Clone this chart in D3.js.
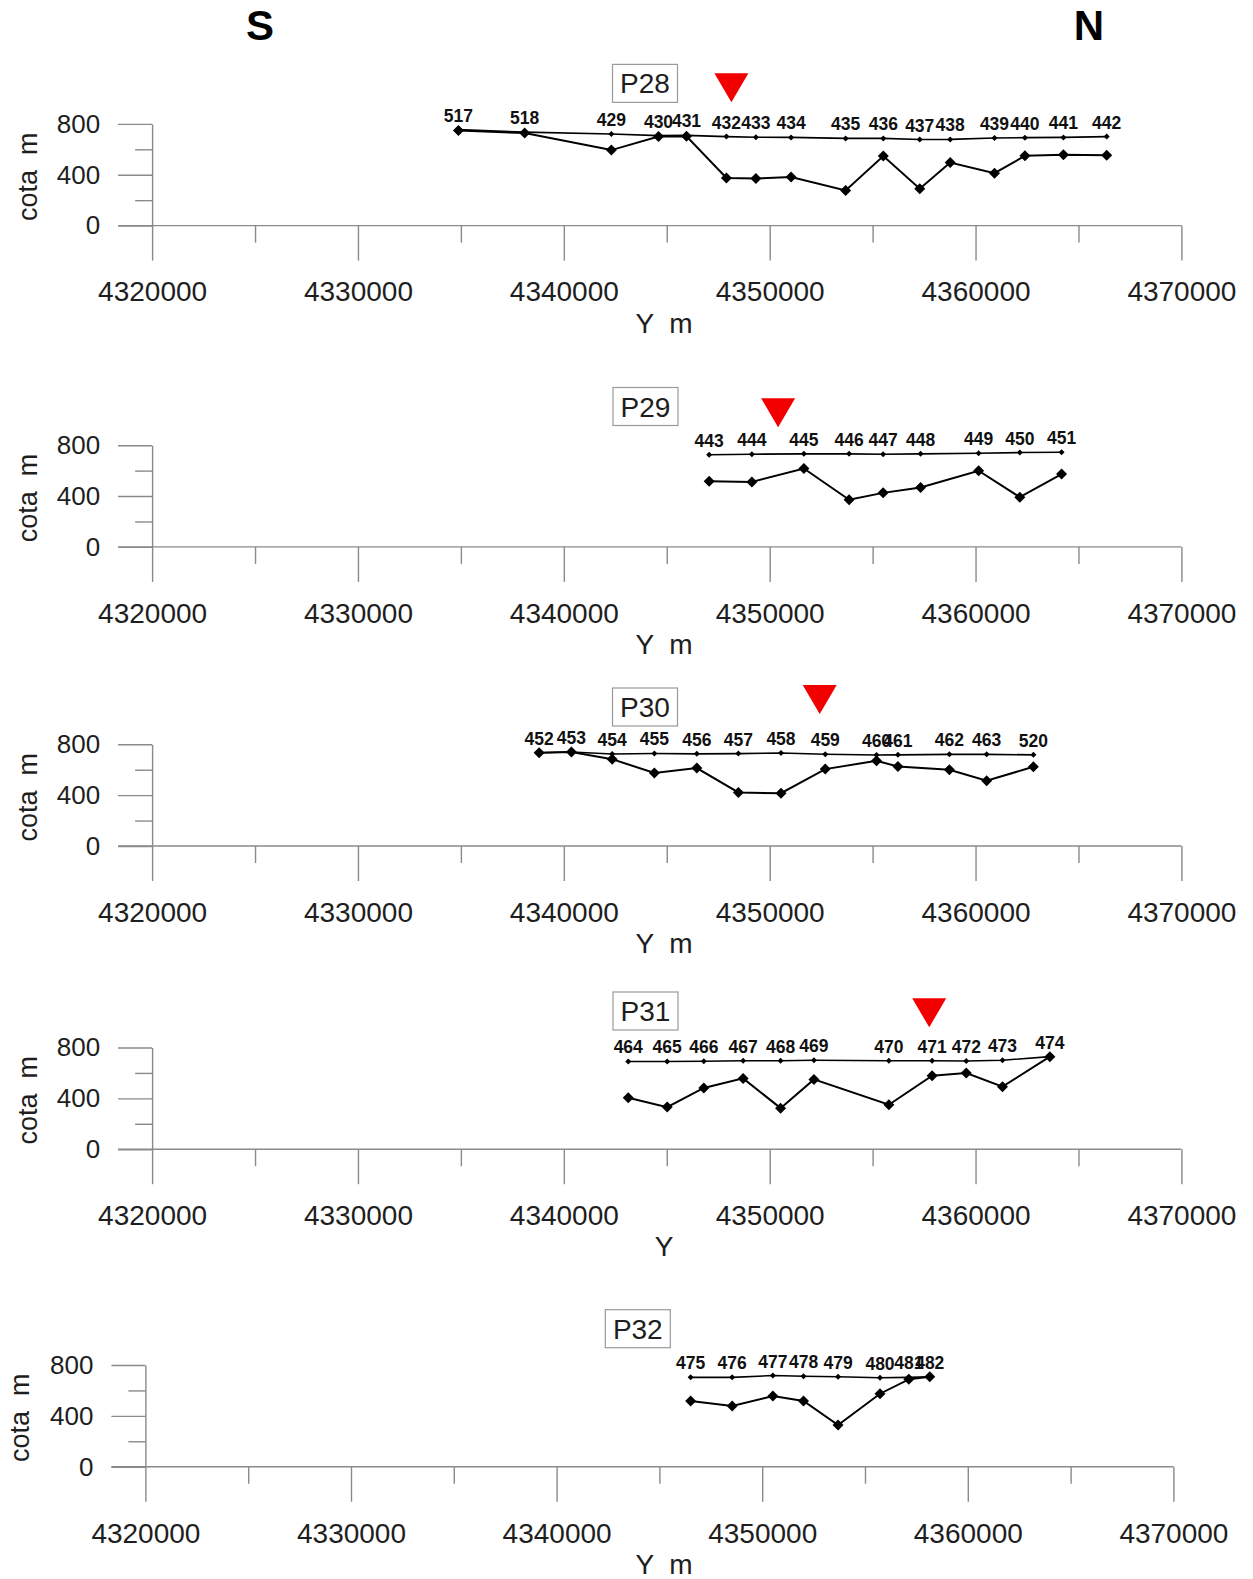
<!DOCTYPE html>
<html>
<head>
<meta charset="utf-8">
<script src="https://cdn.jsdelivr.net/npm/d3@7"></script>
<style>
  body { margin: 0; background: #fff; }
  svg { display: block; }
</style>
</head>
<body>
<svg id="chart" width="1253" height="1579"></svg>
<script>
// Shared axis values
const xTickValues = [4320000, 4330000, 4340000, 4350000, 4360000, 4370000];
const xMinorTicks = [4325000, 4335000, 4345000, 4355000, 4365000];
const yTickValues = [0, 400, 800];
const yMinorTicks = [200, 600];
const xDomain = [4320000, 4370000];
const yDomain = [0, 800];

// Profile P28
const p28Stations = ["517", "518", "429", "430", "431", "432", "433", "434", "435", "436", "437", "438", "439", "440", "441", "442"];
const p28Y = [4334880, 4338100, 4342310, 4344600, 4345960, 4347900, 4349330, 4351040, 4353690, 4355520, 4357290, 4358770, 4360920, 4362400, 4364270, 4366370];
const p28Surface = [755, 735, 720, 708, 710, 700, 695, 694, 686, 686, 677, 678, 689, 692, 694, 700];
const p28Base = [748, 728, 594, 700, 702, 375, 370, 383, 277, 547, 290, 496, 412, 549, 557, 554];
const p28Marker = 4348140;

// Profile P29
const p29Stations = ["443", "444", "445", "446", "447", "448", "449", "450", "451"];
const p29Y = [4347060, 4349135, 4351660, 4353860, 4355510, 4357330, 4360150, 4362150, 4364180];
const p29Surface = [725, 729, 732, 732, 729, 732, 737, 742, 745];
const p29Base = [516, 511, 617, 371, 425, 467, 599, 391, 573];
const p29Marker = 4350410;

// Profile P30
const p30Stations = ["452", "453", "454", "455", "456", "457", "458", "459", "460", "461", "462", "463", "520"];
const p30Y = [4338800, 4340370, 4342350, 4344400, 4346460, 4348480, 4350550, 4352700, 4355190, 4356230, 4358730, 4360540, 4362810];
const p30Surface = [733, 740, 724, 728, 725, 727, 731, 722, 716, 717, 721, 721, 717];
const p30Base = [733, 740, 683, 574, 613, 421, 415, 605, 670, 625, 600, 514, 623];
const p30Marker = 4352430;

// Profile P31
const p31Stations = ["464", "465", "466", "467", "468", "469", "470", "471", "472", "473", "474"];
const p31Y = [4343130, 4345020, 4346800, 4348710, 4350530, 4352150, 4355790, 4357890, 4359550, 4361310, 4363610];
const p31Surface = [690, 690, 692, 696, 696, 700, 696, 696, 694, 700, 728];
const p31Base = [404, 331, 482, 557, 323, 549, 350, 578, 599, 492, 728];
const p31Marker = 4357750;

// Profile P32
const p32Stations = ["475", "476", "477", "478", "479", "480", "481", "482"];
const p32Y = [4346520, 4348540, 4350520, 4352010, 4353690, 4355730, 4357130, 4358150];
const p32Surface = [703, 703, 717, 711, 708, 700, 703, 708];
const p32Base = [517, 477, 556, 517, 328, 574, 687, 708];

const profiles = [
  { name: "P28", stations: p28Stations, y: p28Y, surface: p28Surface, base: p28Base, marker: p28Marker, xTitle: "Y  m",
    layout: { left: 152.1, right: 1181.4, y0: 225.6, boxX: 645, boxY: 83.4, markerTop: 73.3, yTitleX: 36.7 } },
  { name: "P29", stations: p29Stations, y: p29Y, surface: p29Surface, base: p29Base, marker: p29Marker, xTitle: "Y  m",
    layout: { left: 152.1, right: 1181.4, y0: 546.9, boxX: 645.5, boxY: 406.5, markerTop: 398.3, yTitleX: 36.7 } },
  { name: "P30", stations: p30Stations, y: p30Y, surface: p30Surface, base: p30Base, marker: p30Marker, xTitle: "Y  m",
    layout: { left: 152.1, right: 1181.4, y0: 846.0, boxX: 645, boxY: 707, markerTop: 685, yTitleX: 36.7 } },
  { name: "P31", stations: p31Stations, y: p31Y, surface: p31Surface, base: p31Base, marker: p31Marker, xTitle: "Y",
    layout: { left: 152.1, right: 1181.4, y0: 1149.2, boxX: 645.5, boxY: 1011, markerTop: 998.3, yTitleX: 36.7 } },
  { name: "P32", stations: p32Stations, y: p32Y, surface: p32Surface, base: p32Base, marker: null, xTitle: "Y  m",
    layout: { left: 145.4, right: 1173.4, y0: 1466.7, boxX: 637.8, boxY: 1328.7, markerTop: null, yTitleX: 29 } }
];

const FONT = "'Liberation Sans', Arial, Helvetica, sans-serif";
const AXIS_COLOR = "#8a8a8a";
const TEXT_COLOR = "#1e1e1e";
const PANEL_H = 101.7;

const svg = d3.select("#chart");

// Orientation letters
svg.append("text").attr("x", 260).attr("y", 39.5).attr("text-anchor", "middle")
  .attr("font-family", FONT).attr("font-weight", "bold").attr("font-size", 42)
  .attr("fill", "#000").text("S");
svg.append("text").attr("x", 1089).attr("y", 39.5).attr("text-anchor", "middle")
  .attr("font-family", FONT).attr("font-weight", "bold").attr("font-size", 42)
  .attr("fill", "#000").text("N");

function diamondPath(cx, cy, r) {
  return `M${cx},${cy - r}L${cx + r},${cy}L${cx},${cy + r}L${cx - r},${cy}Z`;
}

profiles.forEach(p => {
  const L = p.layout;
  const x = d3.scaleLinear().domain(xDomain).range([L.left, L.right]);
  const y = d3.scaleLinear().domain(yDomain).range([L.y0, L.y0 - PANEL_H]);
  const g = svg.append("g");

  // Horizontal baseline, extending to the left under the 0 tick
  g.append("line")
    .attr("x1", L.left - 34).attr("x2", L.right)
    .attr("y1", L.y0).attr("y2", L.y0)
    .attr("stroke", AXIS_COLOR).attr("stroke-width", 1.4);

  // X axis: major ticks with labels
  const xAxis = g.append("g").attr("transform", `translate(0,${L.y0})`)
    .call(d3.axisBottom(x).tickValues(xTickValues).tickSize(35).tickSizeOuter(0)
      .tickPadding(21).tickFormat(d3.format("d")));
  // X axis: minor ticks
  const xMinor = g.append("g").attr("transform", `translate(0,${L.y0})`)
    .call(d3.axisBottom(x).tickValues(xMinorTicks).tickSize(17).tickFormat(""));

  // Y axis: major ticks with labels
  const yAxis = g.append("g").attr("transform", `translate(${L.left},0)`)
    .call(d3.axisLeft(y).tickValues(yTickValues).tickSize(34).tickSizeOuter(0).tickPadding(18));
  const yMinor = g.append("g").attr("transform", `translate(${L.left},0)`)
    .call(d3.axisLeft(y).tickValues(yMinorTicks).tickSize(17).tickFormat(""));

  [xAxis, xMinor, yAxis, yMinor].forEach(a => {
    a.select(".domain").attr("stroke", AXIS_COLOR).attr("stroke-width", 1.4);
    a.selectAll(".tick line").attr("stroke", AXIS_COLOR).attr("stroke-width", 1.4);
  });
  xAxis.select(".domain").remove();
  xMinor.select(".domain").remove();
  yMinor.select(".domain").remove();
  xAxis.selectAll(".tick text").attr("font-family", FONT).attr("font-size", 28).attr("fill", TEXT_COLOR);
  yAxis.selectAll(".tick text").attr("font-family", FONT).attr("font-size", 26).attr("fill", TEXT_COLOR);

  // Axis titles
  g.append("text")
    .attr("x", 664).attr("y", L.y0 + 107)
    .attr("text-anchor", "middle").attr("font-family", FONT).attr("font-size", 28)
    .attr("fill", TEXT_COLOR).attr("xml:space", "preserve").style("white-space", "pre")
    .text(p.xTitle);
  g.append("text")
    .attr("transform", `translate(${L.yTitleX},${L.y0 - PANEL_H / 2 + 2}) rotate(-90)`)
    .attr("text-anchor", "middle").attr("font-family", FONT).attr("font-size", 27)
    .attr("fill", TEXT_COLOR).attr("xml:space", "preserve").style("white-space", "pre")
    .text("cota  m");

  // Profile name box
  const boxW = 65, boxH = 38;
  g.append("rect")
    .attr("x", L.boxX - boxW / 2).attr("y", L.boxY - boxH / 2)
    .attr("width", boxW).attr("height", boxH)
    .attr("fill", "#fff").attr("stroke", "#9a9a9a").attr("stroke-width", 1.2);
  g.append("text")
    .attr("x", L.boxX).attr("y", L.boxY + 10)
    .attr("text-anchor", "middle").attr("font-family", FONT).attr("font-size", 28)
    .attr("fill", TEXT_COLOR).text(p.name);

  // Red marker triangle
  if (p.marker !== null) {
    const mx = x(p.marker), mt = L.markerTop;
    g.append("path")
      .attr("d", `M${mx - 17},${mt}L${mx + 17},${mt}L${mx},${mt + 29}Z`)
      .attr("fill", "#f20000");
  }

  const surfacePts = p.y.map((v, i) => [x(v), y(p.surface[i])]);
  const basePts = p.y.map((v, i) => [x(v), y(p.base[i])]);
  const line = d3.line();

  // Lower profile line with large diamonds
  g.append("path").attr("d", line(basePts))
    .attr("fill", "none").attr("stroke", "#000").attr("stroke-width", 2);
  g.selectAll(null).data(basePts).enter().append("path")
    .attr("d", d => diamondPath(d[0], d[1], 5.5)).attr("fill", "#000");

  // Upper profile line with small markers
  g.append("path").attr("d", line(surfacePts))
    .attr("fill", "none").attr("stroke", "#000").attr("stroke-width", 1.6);
  g.selectAll(null).data(surfacePts).enter().append("path")
    .attr("d", d => diamondPath(d[0], d[1], 3)).attr("fill", "#000");

  // Station labels
  g.selectAll(null).data(p.stations).enter().append("text")
    .attr("x", (d, i) => surfacePts[i][0])
    .attr("y", (d, i) => surfacePts[i][1] - 8)
    .attr("text-anchor", "middle").attr("font-family", FONT)
    .attr("font-weight", "bold").attr("font-size", 17.5)
    .attr("fill", "#111").text(d => d);
});
</script>
</body>
</html>
